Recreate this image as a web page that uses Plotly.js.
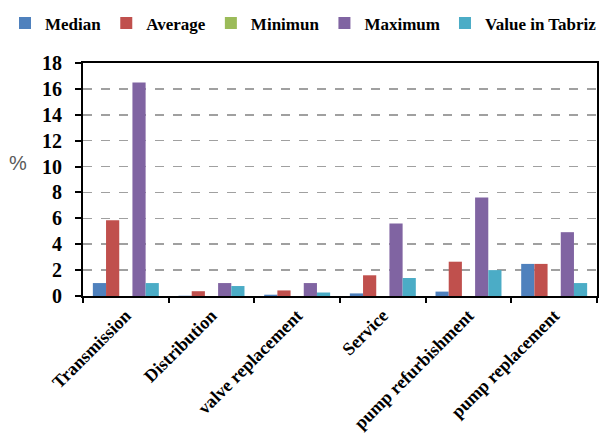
<!DOCTYPE html>
<html>
<head>
<meta charset="utf-8">
<script src="https://cdn.plot.ly/plotly-3.0.1.min.js"></script>
<style>html,body{margin:0;padding:0;background:#fff;}#chart{width:602px;height:439px;}</style>
</head>
<body>
<div id="chart"></div>
<script>
const categories = ["Transmission", "Distribution", "valve replacement", "Service", "pump refurbishment", "pump replacement"];
const seriesNames = ["Median", "Average", "Minimun", "Maximum", "Value in Tabriz"];
const median = [1.0, 0.02, 0.1, 0.2, 0.34, 2.48];
const average = [5.85, 0.37, 0.43, 1.6, 2.65, 2.48];
const minimum = [0, 0, 0, 0, 0, 0];
const maximum = [16.5, 1.0, 1.0, 5.6, 7.6, 4.93];
const tabriz = [1.0, 0.77, 0.27, 1.39, 2.0, 1.0];
const yTicks = [0, 2, 4, 6, 8, 10, 12, 14, 16, 18];

const colors = ["#4F81BD", "#C0504D", "#9BBB59", "#8064A2", "#4BACC6"];
const values = [median, average, minimum, maximum, tabriz];

const traces = values.map((v, i) => ({
  type: "bar",
  name: seriesNames[i],
  x: categories,
  y: v,
  marker: {color: colors[i], line: {width: 0}}
}));

const serif = "Liberation Serif, Times New Roman, serif";

const layout = {
  width: 602,
  height: 439,
  margin: {l: 83, r: 5, t: 50, b: 143},
  paper_bgcolor: "#ffffff",
  plot_bgcolor: "#ffffff",
  barmode: "group",
  bargap: 0.23,
  bargroupgap: 0,
  showlegend: true,
  legend: {
    orientation: "h",
    x: -0.135, xanchor: "left",
    y: 1.17, yanchor: "middle",
    font: {family: serif, size: 17, color: "#000", weight: "bold"},
    itemwidth: 30,
    tracegroupgap: 0,
    bgcolor: "rgba(0,0,0,0)"
  },
  xaxis: {
    type: "category",
    tickson: "boundaries",
    ticks: "outside",
    ticklen: 5,
    tickwidth: 2,
    tickcolor: "#000",
    tickangle: -45,
    tickfont: {family: serif, size: 18, color: "#000", weight: "bold"},
    showline: true,
    linecolor: "#000",
    linewidth: 2,
    mirror: true,
    showgrid: false,
    zeroline: false
  },
  yaxis: {
    range: [0, 18],
    tickvals: yTicks,
    ticktext: yTicks.map(String),
    ticks: "outside",
    ticklen: 6,
    tickwidth: 2,
    tickcolor: "#000",
    ticklabelstandoff: 9,
    tickfont: {family: serif, size: 20, color: "#000", weight: "bold"},
    showline: true,
    linecolor: "#000",
    linewidth: 2,
    mirror: true,
    showgrid: true,
    gridcolor: "#a0a0a0",
    gridwidth: 1.5,
    griddash: "dash",
    zeroline: false
  },
  annotations: [{
    text: "%",
    xref: "paper", yref: "paper",
    x: -0.127, y: 0.57,
    xanchor: "center", yanchor: "middle",
    showarrow: false,
    font: {family: "Liberation Sans, Arial, sans-serif", size: 20, color: "#595959"}
  }]
};

Plotly.newPlot("chart", traces, layout, {displayModeBar: false, staticPlot: true});
</script>
</body>
</html>
